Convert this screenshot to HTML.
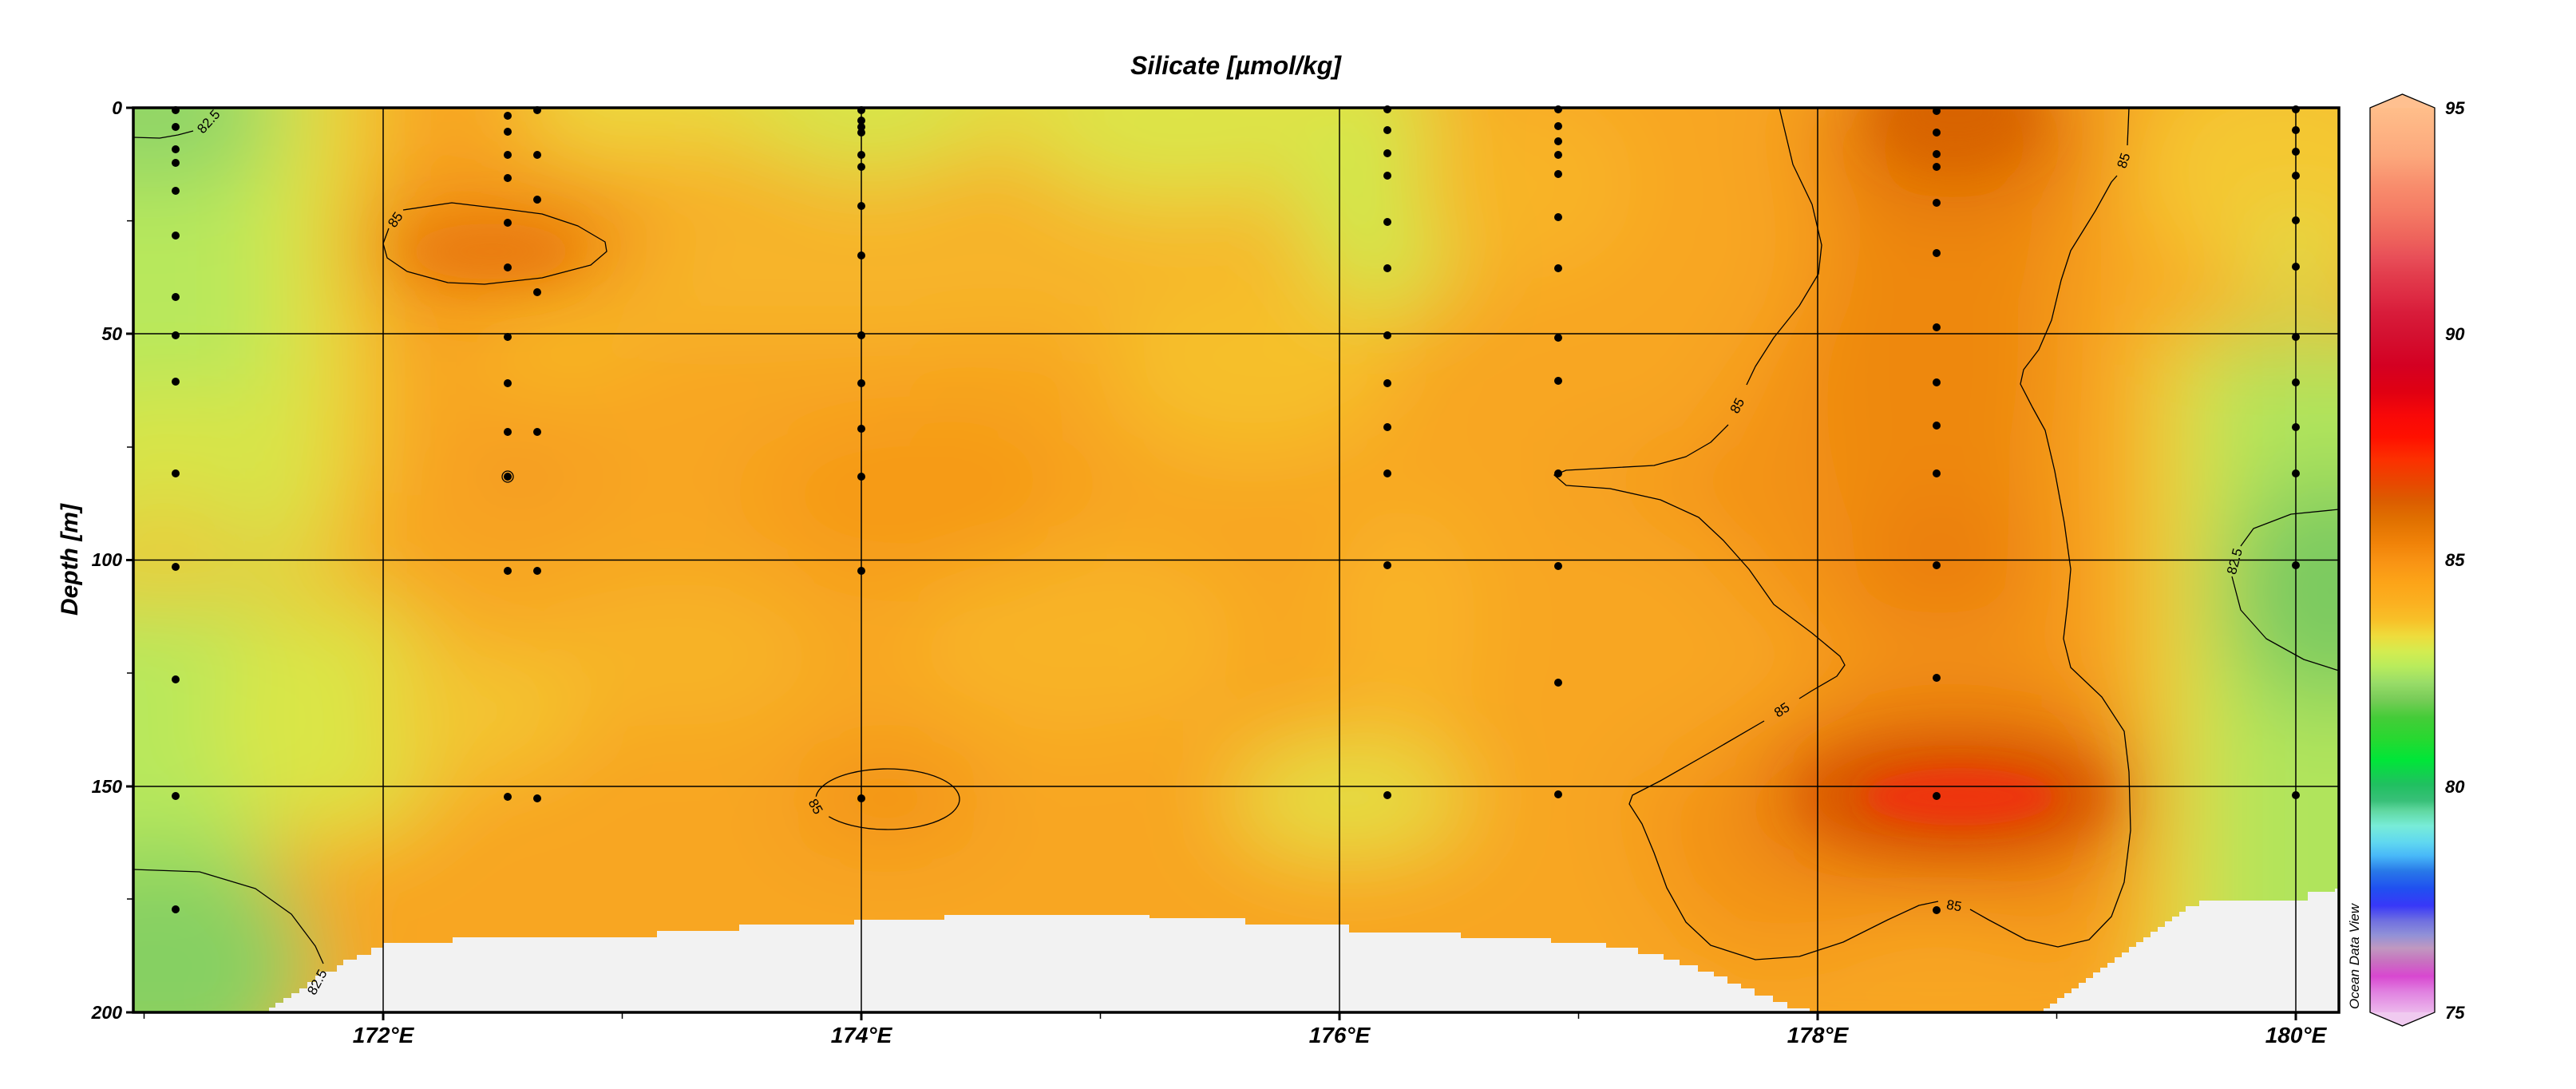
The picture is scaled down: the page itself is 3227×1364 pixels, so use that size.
<!DOCTYPE html>
<html>
<head>
<meta charset="utf-8">
<style>
html,body{margin:0;padding:0;background:#fff;width:3227px;height:1364px;overflow:hidden;}
svg{display:block;position:absolute;left:0;top:0;}
.lab{font-family:"Liberation Sans",Arial,sans-serif;font-weight:bold;font-style:italic;fill:#000;}
.cl{font-family:"Liberation Sans",Arial,sans-serif;font-size:17px;fill:#000;}
</style>
</head>
<body>
<svg width="3227" height="1364" viewBox="0 0 3227 1364" xmlns="http://www.w3.org/2000/svg" overflow="hidden">
<defs>
  <clipPath id="pc"><rect x="167" y="135" width="2763" height="1133"/></clipPath>
  <filter id="b1" filterUnits="userSpaceOnUse" x="0" y="0" width="3227" height="1364"><feGaussianBlur stdDeviation="55"/></filter>
  <filter id="b2" filterUnits="userSpaceOnUse" x="0" y="0" width="3227" height="1364"><feGaussianBlur stdDeviation="28"/></filter>
  <filter id="b3" filterUnits="userSpaceOnUse" x="0" y="0" width="3227" height="1364"><feGaussianBlur stdDeviation="16"/></filter>
  <linearGradient id="cb" gradientUnits="userSpaceOnUse" x1="0" y1="135" x2="0" y2="1268">
    <stop offset="0.000" stop-color="#ffbe8a"/>
    <stop offset="0.053" stop-color="#fca87c"/>
    <stop offset="0.087" stop-color="#f88c6c"/>
    <stop offset="0.116" stop-color="#f47a64"/>
    <stop offset="0.143" stop-color="#ee645c"/>
    <stop offset="0.166" stop-color="#e84e58"/>
    <stop offset="0.186" stop-color="#e23c4c"/>
    <stop offset="0.207" stop-color="#de2c44"/>
    <stop offset="0.227" stop-color="#d81c3a"/>
    <stop offset="0.252" stop-color="#d41030"/>
    <stop offset="0.285" stop-color="#d40022"/>
    <stop offset="0.314" stop-color="#e00012"/>
    <stop offset="0.340" stop-color="#f80808"/>
    <stop offset="0.364" stop-color="#ff1000"/>
    <stop offset="0.389" stop-color="#fc3000"/>
    <stop offset="0.415" stop-color="#e84800"/>
    <stop offset="0.434" stop-color="#dc5c00"/>
    <stop offset="0.455" stop-color="#e07000"/>
    <stop offset="0.481" stop-color="#f08208"/>
    <stop offset="0.503" stop-color="#f99414"/>
    <stop offset="0.525" stop-color="#fca418"/>
    <stop offset="0.547" stop-color="#fbb020"/>
    <stop offset="0.566" stop-color="#f8c028"/>
    <stop offset="0.584" stop-color="#eedc3c"/>
    <stop offset="0.601" stop-color="#d4ec50"/>
    <stop offset="0.618" stop-color="#b8ec5c"/>
    <stop offset="0.636" stop-color="#98dc68"/>
    <stop offset="0.654" stop-color="#78cc58"/>
    <stop offset="0.674" stop-color="#44cc38"/>
    <stop offset="0.697" stop-color="#28d830"/>
    <stop offset="0.721" stop-color="#00e638"/>
    <stop offset="0.748" stop-color="#20c060"/>
    <stop offset="0.766" stop-color="#38c078"/>
    <stop offset="0.777" stop-color="#60d8a0"/>
    <stop offset="0.794" stop-color="#78ecd8"/>
    <stop offset="0.812" stop-color="#60d8f0"/>
    <stop offset="0.827" stop-color="#48b8f8"/>
    <stop offset="0.844" stop-color="#2878e8"/>
    <stop offset="0.863" stop-color="#2050f0"/>
    <stop offset="0.882" stop-color="#3838f8"/>
    <stop offset="0.899" stop-color="#7070e0"/>
    <stop offset="0.914" stop-color="#9090d8"/>
    <stop offset="0.929" stop-color="#c098c0"/>
    <stop offset="0.944" stop-color="#c870c0"/>
    <stop offset="0.960" stop-color="#d848d0"/>
    <stop offset="0.977" stop-color="#e080e0"/>
    <stop offset="1.000" stop-color="#ecb8ec"/>
  </linearGradient>
</defs>

<!-- Title -->
<text class="lab" x="1548" y="93" font-size="32" text-anchor="middle">Silicate [µmol/kg]</text>

<!-- Field -->
<g clip-path="url(#pc)">
  <rect x="167" y="135" width="2763" height="1133" fill="#f8a620"/>
  <g filter="url(#b1)">
    <rect x="0" y="0" width="3227" height="1364" fill="#f8a620"/>
    <!-- broad lighter bands -->
    <rect x="700" y="250" width="1050" height="170" fill="#f7b52a"/>
    <ellipse cx="1350" cy="800" rx="200" ry="110" fill="#f8b628"/>
    <ellipse cx="850" cy="820" rx="170" ry="90" fill="#f7b428"/>
    <!-- left strip -->
    <rect x="0" y="0" width="335" height="1364" fill="#b8e85c"/>
    <rect x="335" y="0" width="85" height="720" fill="#dde446"/>
    <rect x="420" y="0" width="55" height="620" fill="#f2c832"/>
    <ellipse cx="185" cy="140" rx="170" ry="90" fill="#8ed468"/>
    <ellipse cx="210" cy="560" rx="150" ry="70" fill="#dce444"/>
    <ellipse cx="200" cy="700" rx="150" ry="55" fill="#f2c632"/>
    <ellipse cx="420" cy="900" rx="150" ry="150" fill="#dae646"/>
    <ellipse cx="200" cy="1210" rx="195" ry="150" fill="#86d062"/>
    <ellipse cx="600" cy="890" rx="130" ry="80" fill="#f3c632"/>
    <!-- top band -->
    <rect x="680" y="0" width="1100" height="190" fill="#e8dc40"/>
    <ellipse cx="1090" cy="150" rx="150" ry="70" fill="#d4e84c"/>
    <ellipse cx="1480" cy="170" rx="200" ry="80" fill="#dae648"/>
    <ellipse cx="760" cy="150" rx="110" ry="50" fill="#eed83c"/>
    <ellipse cx="1740" cy="250" rx="110" ry="140" fill="#d0ea4e"/>
    <ellipse cx="1910" cy="230" rx="140" ry="120" fill="#f8b426"/>
    <ellipse cx="700" cy="420" rx="100" ry="50" fill="#f8bc28"/>
    <ellipse cx="1570" cy="460" rx="180" ry="110" fill="#f6c02c"/>
    <ellipse cx="1250" cy="480" rx="110" ry="70" fill="#f7a41e"/>
    <ellipse cx="1330" cy="820" rx="120" ry="100" fill="#f8b426"/>
    <ellipse cx="1760" cy="780" rx="90" ry="150" fill="#f9b426"/>
    <ellipse cx="1690" cy="1000" rx="150" ry="70" fill="#e2e244"/>
    <!-- orange features -->
    <ellipse cx="620" cy="305" rx="190" ry="75" fill="#ee8610"/>
    <ellipse cx="650" cy="595" rx="90" ry="35" fill="#f4961a"/>
    <ellipse cx="1150" cy="620" rx="200" ry="100" fill="#f69a18"/>
    <ellipse cx="1110" cy="1000" rx="110" ry="45" fill="#f08a10"/>
    <!-- right big region -->
    <polygon fill="#f39214" points="2229,134 2282,307 2254,383 2199,459 2143,554 2072,583 1962,589 1962,608 2080,626 2159,677 2222,757 2305,822 2270,865 2143,942 2045,996 2057,1032 2088,1112 2143,1184 2254,1198 2365,1152 2428,1129 2491,1152 2578,1186 2645,1148 2669,1040 2661,916 2594,836 2594,713 2574,590 2531,481 2570,401 2625,264 2667,134"/>
    <ellipse cx="2430" cy="420" rx="150" ry="350" fill="#ee8810"/>
    <ellipse cx="2450" cy="150" rx="150" ry="100" fill="#dc6802"/>
    <ellipse cx="2430" cy="705" rx="110" ry="65" fill="#ea7c0a"/>
    <ellipse cx="2450" cy="995" rx="240" ry="100" fill="#dc6004"/>
    <!-- right strip -->
    <ellipse cx="2860" cy="210" rx="190" ry="150" fill="#f4c832"/>
    <rect x="2700" y="420" width="70" height="900" fill="#e6de42"/>
    <rect x="2770" y="420" width="457" height="900" fill="#b0e45c"/>
    <ellipse cx="2920" cy="740" rx="140" ry="140" fill="#7cca60"/>
    <ellipse cx="2880" cy="330" rx="60" ry="45" fill="#cfeb52"/>
  </g>
  <g filter="url(#b2)">
    <ellipse cx="615" cy="315" rx="110" ry="35" fill="#e97a0a"/>
    <ellipse cx="2450" cy="140" rx="100" ry="60" fill="#d86400"/>
    <ellipse cx="2450" cy="998" rx="190" ry="65" fill="#da5604"/>
  </g>
  <g filter="url(#b3)">
    <ellipse cx="2455" cy="998" rx="120" ry="36" fill="#ee340a"/>
  </g>
</g>

<!-- Seafloor mask -->
<polygon fill="#f2f2f2" points="337,1268 337,1262 345,1262 345,1256 355,1256 355,1250 365,1250 365,1244 375,1244 375,1238 385,1238 385,1230 395,1230 395,1222 400,1222 400,1217 422,1217 422,1209 430,1209 430,1202 447,1202 447,1196 465,1196 465,1187 480,1187 480,1181 567,1181 567,1174 823,1174 823,1166 926,1166 926,1158 1070,1158 1070,1152 1183,1152 1183,1146 1440,1146 1440,1150 1560,1150 1560,1158 1690,1158 1690,1168 1830,1168 1830,1175 1943,1175 1943,1181 2012,1181 2012,1187 2052,1187 2052,1195 2084,1195 2084,1202 2104,1202 2104,1209 2127,1209 2127,1217 2147,1217 2147,1223 2164,1223 2164,1232 2181,1232 2181,1238 2198,1238 2198,1247 2221,1247 2221,1255 2239,1255 2239,1263 2267,1263 2267,1268 2560,1268 2560,1263 2568,1263 2568,1257 2577,1257 2577,1250 2586,1250 2586,1244 2595,1244 2595,1238 2604,1238 2604,1231 2613,1231 2613,1225 2622,1225 2622,1218 2631,1218 2631,1212 2640,1212 2640,1206 2649,1206 2649,1199 2658,1199 2658,1193 2667,1193 2667,1186 2676,1186 2676,1180 2685,1180 2685,1174 2694,1174 2694,1167 2703,1167 2703,1161 2712,1161 2712,1154 2721,1154 2721,1148 2730,1148 2730,1142 2738,1142 2738,1135 2755,1135 2755,1128 2891,1128 2891,1117 2925,1117 2925,1113 2930,1113 2930,1268"/>

<!-- Grid -->
<g stroke="#000" stroke-width="1.5" fill="none">
  <line x1="480" y1="135" x2="480" y2="1268"/>
  <line x1="1079" y1="135" x2="1079" y2="1268"/>
  <line x1="1678" y1="135" x2="1678" y2="1268"/>
  <line x1="2277" y1="135" x2="2277" y2="1268"/>
  <line x1="2876" y1="135" x2="2876" y2="1268"/>
  <line x1="167" y1="418" x2="2930" y2="418"/>
  <line x1="167" y1="701.5" x2="2930" y2="701.5"/>
  <line x1="167" y1="985" x2="2930" y2="985"/>
</g>

<!-- Contours -->
<g stroke="#000" stroke-width="1.3" fill="none" stroke-linejoin="round" clip-path="url(#pc)">
  <polyline points="167,172 200,173 223,169 242,164"/>
  <polyline points="167,1089 250,1092 320,1113 365,1145 395,1185 405,1207"/>
  <polyline points="505,263 566,254 633,262 679,268 724,283 758,303 760,315 740,332 679,348 607,356 561,354 510,340 485,323 480,305 487,286"/>
  <path d="M1022.3,997.7 A90 38 0 1 1 1038.3,1022.8"/>
  <circle cx="636" cy="597" r="7"/>
  <polyline points="2229,135 2246,206 2270,256 2282,307 2278,343 2254,383 2222,423 2199,459 2188,482"/>
  <polyline points="2165,532 2143,554 2112,572 2072,583 2017,586 1962,589 1947,595 1962,608 2017,612 2080,626 2128,648 2159,677 2191,713 2222,757 2270,793 2305,822 2311,833 2301,847 2270,865 2254,875"/>
  <polyline points="2210,903 2143,942 2080,978 2045,996 2041,1007 2057,1032 2072,1068 2088,1112 2112,1155 2143,1184 2199,1202 2254,1198 2309,1180 2365,1152 2404,1134 2428,1129"/>
  <polyline points="2468,1139 2491,1152 2538,1177 2578,1186 2617,1177 2645,1148 2661,1105 2669,1040 2667,967 2661,916 2633,873 2594,836 2585,800 2590,757 2594,713 2586,655 2574,590 2562,539 2546,510 2531,481 2535,463 2554,438 2570,401 2582,351 2594,314 2625,264 2645,228 2652,220"/>
  <polyline points="2665,182 2667,135"/>
  <polyline points="2930,638 2870,644 2823,662 2807,684"/>
  <polyline points="2796,722 2807,764 2839,800 2886,826 2930,840"/>
</g>
<g class="cl">
  <text transform="translate(261,152) rotate(-48)" text-anchor="middle" dy="6">82.5</text>
  <text transform="translate(397,1230) rotate(-62)" text-anchor="middle" dy="6">82.5</text>
  <text transform="translate(495,275) rotate(-55)" text-anchor="middle" dy="6">85</text>
  <text transform="translate(1022,1010) rotate(60)" text-anchor="middle" dy="6">85</text>
  <text transform="translate(2176,508) rotate(-62)" text-anchor="middle" dy="6">85</text>
  <text transform="translate(2232,889) rotate(-33)" text-anchor="middle" dy="6">85</text>
  <text transform="translate(2448,1134) rotate(10)" text-anchor="middle" dy="6">85</text>
  <text transform="translate(2660,201) rotate(-72)" text-anchor="middle" dy="6">85</text>
  <text transform="translate(2799,703) rotate(-75)" text-anchor="middle" dy="6">82.5</text>
</g>

<!-- Station dots -->
<g fill="#000">
  <circle cx="220" cy="138" r="5"/><circle cx="220" cy="159" r="5"/><circle cx="220" cy="187" r="5"/><circle cx="220" cy="204" r="5"/><circle cx="220" cy="239" r="5"/><circle cx="220" cy="295" r="5"/><circle cx="220" cy="372" r="5"/><circle cx="220" cy="420" r="5"/><circle cx="220" cy="478" r="5"/><circle cx="220" cy="593" r="5"/><circle cx="220" cy="710" r="5"/><circle cx="220" cy="851" r="5"/><circle cx="220" cy="997" r="5"/><circle cx="220" cy="1139" r="5"/>
  <circle cx="636" cy="145" r="5"/><circle cx="636" cy="165" r="5"/><circle cx="636" cy="194" r="5"/><circle cx="636" cy="223" r="5"/><circle cx="636" cy="279" r="5"/><circle cx="636" cy="335" r="5"/><circle cx="636" cy="422" r="5"/><circle cx="636" cy="480" r="5"/><circle cx="636" cy="541" r="5"/><circle cx="636" cy="597" r="5"/><circle cx="636" cy="715" r="5"/><circle cx="636" cy="998" r="5"/>
  <circle cx="673" cy="138" r="5"/><circle cx="673" cy="194" r="5"/><circle cx="673" cy="250" r="5"/><circle cx="673" cy="366" r="5"/><circle cx="673" cy="541" r="5"/><circle cx="673" cy="715" r="5"/><circle cx="673" cy="1000" r="5"/>
  <circle cx="1079" cy="138" r="5"/><circle cx="1079" cy="151" r="5"/><circle cx="1079" cy="159" r="5"/><circle cx="1079" cy="166" r="5"/><circle cx="1079" cy="194" r="5"/><circle cx="1079" cy="209" r="5"/><circle cx="1079" cy="258" r="5"/><circle cx="1079" cy="320" r="5"/><circle cx="1079" cy="420" r="5"/><circle cx="1079" cy="480" r="5"/><circle cx="1079" cy="537" r="5"/><circle cx="1079" cy="597" r="5"/><circle cx="1079" cy="715" r="5"/><circle cx="1079" cy="1000" r="5"/>
  <circle cx="1738" cy="137" r="5"/><circle cx="1738" cy="163" r="5"/><circle cx="1738" cy="192" r="5"/><circle cx="1738" cy="220" r="5"/><circle cx="1738" cy="278" r="5"/><circle cx="1738" cy="336" r="5"/><circle cx="1738" cy="420" r="5"/><circle cx="1738" cy="480" r="5"/><circle cx="1738" cy="535" r="5"/><circle cx="1738" cy="593" r="5"/><circle cx="1738" cy="708" r="5"/><circle cx="1738" cy="996" r="5"/>
  <circle cx="1952" cy="137" r="5"/><circle cx="1952" cy="158" r="5"/><circle cx="1952" cy="177" r="5"/><circle cx="1952" cy="194" r="5"/><circle cx="1952" cy="218" r="5"/><circle cx="1952" cy="272" r="5"/><circle cx="1952" cy="336" r="5"/><circle cx="1952" cy="423" r="5"/><circle cx="1952" cy="477" r="5"/><circle cx="1952" cy="593" r="5"/><circle cx="1952" cy="709" r="5"/><circle cx="1952" cy="855" r="5"/><circle cx="1952" cy="995" r="5"/>
  <circle cx="2426" cy="139" r="5"/><circle cx="2426" cy="166" r="5"/><circle cx="2426" cy="193" r="5"/><circle cx="2426" cy="209" r="5"/><circle cx="2426" cy="254" r="5"/><circle cx="2426" cy="317" r="5"/><circle cx="2426" cy="410" r="5"/><circle cx="2426" cy="479" r="5"/><circle cx="2426" cy="533" r="5"/><circle cx="2426" cy="593" r="5"/><circle cx="2426" cy="708" r="5"/><circle cx="2426" cy="849" r="5"/><circle cx="2426" cy="997" r="5"/><circle cx="2426" cy="1140" r="5"/>
  <circle cx="2876" cy="137" r="5"/><circle cx="2876" cy="163" r="5"/><circle cx="2876" cy="190" r="5"/><circle cx="2876" cy="220" r="5"/><circle cx="2876" cy="276" r="5"/><circle cx="2876" cy="334" r="5"/><circle cx="2876" cy="422" r="5"/><circle cx="2876" cy="479" r="5"/><circle cx="2876" cy="535" r="5"/><circle cx="2876" cy="593" r="5"/><circle cx="2876" cy="708" r="5"/><circle cx="2876" cy="996" r="5"/>
</g>

<!-- Frame -->
<rect x="167" y="135" width="2763" height="1133" fill="none" stroke="#000" stroke-width="3.5"/>

<!-- Ticks -->
<g stroke="#000">
  <g stroke-width="3">
    <line x1="158" y1="135" x2="167" y2="135"/>
    <line x1="158" y1="418" x2="167" y2="418"/>
    <line x1="158" y1="701.5" x2="167" y2="701.5"/>
    <line x1="158" y1="985" x2="167" y2="985"/>
    <line x1="158" y1="1268" x2="167" y2="1268"/>
    <line x1="480" y1="1268" x2="480" y2="1278"/>
    <line x1="1079" y1="1268" x2="1079" y2="1278"/>
    <line x1="1678" y1="1268" x2="1678" y2="1278"/>
    <line x1="2277" y1="1268" x2="2277" y2="1278"/>
    <line x1="2876" y1="1268" x2="2876" y2="1278"/>
  </g>
  <g stroke-width="1.5">
    <line x1="159" y1="276.6" x2="167" y2="276.6"/>
    <line x1="159" y1="560" x2="167" y2="560"/>
    <line x1="159" y1="843" x2="167" y2="843"/>
    <line x1="159" y1="1126" x2="167" y2="1126"/>
    <line x1="180.5" y1="1268" x2="180.5" y2="1276"/>
    <line x1="779.5" y1="1268" x2="779.5" y2="1276"/>
    <line x1="1378.5" y1="1268" x2="1378.5" y2="1276"/>
    <line x1="1977.5" y1="1268" x2="1977.5" y2="1276"/>
    <line x1="2576.5" y1="1268" x2="2576.5" y2="1276"/>
  </g>
</g>

<!-- Y tick labels -->
<g class="lab" font-size="23" text-anchor="end">
  <text x="153" y="143">0</text>
  <text x="153" y="426">50</text>
  <text x="153" y="709">100</text>
  <text x="153" y="993">150</text>
  <text x="153" y="1276">200</text>
</g>
<!-- X tick labels -->
<g class="lab" font-size="28" text-anchor="middle">
  <text x="480" y="1306">172°E</text>
  <text x="1079" y="1306">174°E</text>
  <text x="1678" y="1306">176°E</text>
  <text x="2277" y="1306">178°E</text>
  <text x="2876" y="1306">180°E</text>
</g>
<!-- Y axis title -->
<text class="lab" font-size="30" text-anchor="middle" transform="translate(97,701) rotate(-90)">Depth [m]</text>

<!-- ODV credit -->
<text transform="translate(2955,1264) rotate(-90)" font-family="'Liberation Sans',Arial,sans-serif" font-style="italic" font-size="17" fill="#000">Ocean Data View</text>

<!-- Colorbar -->
<polygon points="2969,135 3009.5,118 3050,135" fill="#ffc090"/>
<polygon points="2969,1268 3009.5,1285 3050,1268" fill="#f0caf0"/>
<rect x="2969" y="135" width="81" height="1133" fill="url(#cb)"/>
<polygon points="2969,135 3009.5,118 3050,135 3050,1268 3009.5,1285 2969,1268" fill="none" stroke="#000" stroke-width="1.3"/>
<g class="lab" font-size="22">
  <text x="3063" y="143">95</text>
  <text x="3063" y="426">90</text>
  <text x="3063" y="709">85</text>
  <text x="3063" y="993">80</text>
  <text x="3063" y="1276">75</text>
</g>
</svg>
</body>
</html>
